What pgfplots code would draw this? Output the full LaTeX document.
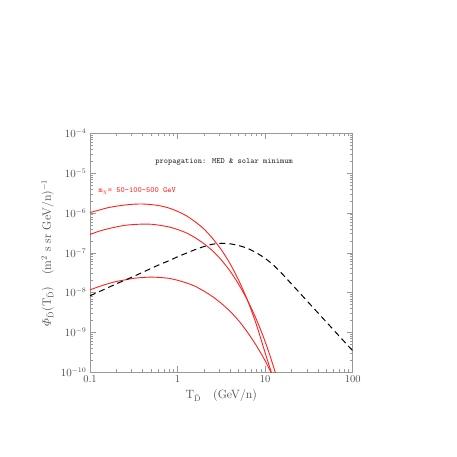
\documentclass[border=0pt]{standalone}
\usepackage{amsmath}
\usepackage{pgfplots}
\pgfplotsset{compat=1.18}
\definecolor{framegray}{gray}{0.6}
\definecolor{labgray}{gray}{0.3}
\definecolor{curvered}{HTML}{FF2020}

\begin{document}
\begin{tikzpicture}
  \useasboundingbox (-90pt,-84.7pt) rectangle (367pt,372.3pt);
  \begin{axis}[
    scale only axis,
    width=262.7pt,
    height=239pt,
    xmode=log, ymode=log,
    xmin=0.1, xmax=100,
    ymin=1e-10, ymax=1e-4,
    xtick={0.1,1,10,100},
    xticklabels={0.1,1,10,100},
    ytick={1e-10,1e-9,1e-8,1e-7,1e-6,1e-5,1e-4},
    axis line style={framegray, line width=0.8pt},
    every tick/.style={framegray, line width=0.6pt},
    major tick length=6pt,
    minor tick length=3pt,
    tick align=inside,
    ticklabel style={labgray, font=\fontsize{10.5}{12}\selectfont},
    xlabel={$\mathrm{T}_{\bar{\mathrm{D}}}$\quad(GeV/n)},
    ylabel={$\varPhi_{\bar{\mathrm{D}}}(\mathrm{T}_{\bar{\mathrm{D}}})$\quad(m$^2$ s sr GeV/n)$^{-1}$},
    label style={labgray, font=\fontsize{12}{14}\selectfont},
    clip=true,
  ]
    % red curves, m = 50, 100, 500 GeV
    \addplot[curvered, line width=0.9pt, smooth] coordinates {
      (0.1,1.023e-6) (0.1259,1.175e-6) (0.1585,1.349e-6) (0.1995,1.479e-6)
      (0.2512,1.585e-6) (0.3162,1.660e-6) (0.3981,1.679e-6) (0.5012,1.622e-6)
      (0.6310,1.514e-6) (0.7943,1.334e-6) (1,1.097e-6) (1.259,8.511e-7)
      (1.585,6.026e-7) (1.995,3.981e-7) (2.512,2.291e-7) (3.162,1.189e-7)
      (3.981,5.31e-8) (5.012,1.995e-8) (6.310,6.310e-9) (7.943,1.585e-9)
      (10,3.090e-10) (12.59,6.310e-11)
    };
    \addplot[curvered, line width=0.9pt, smooth] coordinates {
      (0.1,2.884e-7) (0.1259,3.467e-7) (0.1585,3.981e-7) (0.1995,4.467e-7)
      (0.2512,4.898e-7) (0.3162,5.129e-7) (0.3981,5.248e-7) (0.5012,5.21e-7)
      (0.6310,4.898e-7) (0.7943,4.467e-7) (1,3.846e-7) (1.259,3.162e-7)
      (1.585,2.399e-7) (1.995,1.698e-7) (2.512,1.122e-7) (3.162,6.607e-8)
      (3.981,3.467e-8) (5.012,1.585e-8) (6.310,6.310e-9) (7.943,2.138e-9)
      (10,5.888e-10) (12.59,1.288e-10) (15.85,2.188e-11)
    };
    \addplot[curvered, line width=0.9pt, smooth] coordinates {
      (0.1,1.175e-8) (0.1259,1.413e-8) (0.1585,1.660e-8) (0.1995,1.905e-8)
      (0.2512,2.089e-8) (0.3162,2.291e-8) (0.3981,2.399e-8) (0.5012,2.455e-8)
      (0.6310,2.399e-8) (0.7943,2.291e-8) (1,2.042e-8) (1.259,1.758e-8)
      (1.585,1.445e-8) (1.995,1.096e-8) (2.512,7.943e-9) (3.162,5.370e-9)
      (3.981,3.388e-9) (5.012,1.950e-9) (6.310,1.0e-9) (7.943,4.677e-10)
      (10,1.950e-10) (12.59,7.079e-11)
    };
    % dashed curve
    \addplot[black, line width=1pt, dash pattern=on 6pt off 4pt, smooth] coordinates {
      (0.1,8.318e-9) (0.1259,1.047e-8) (0.1585,1.318e-8) (0.1995,1.660e-8)
      (0.2512,2.065e-8) (0.3162,2.570e-8) (0.3981,3.236e-8) (0.5012,4.074e-8)
      (0.6310,5.129e-8) (0.7943,6.310e-8) (1,7.943e-8) (1.259,9.772e-8)
      (1.585,1.202e-7) (1.995,1.429e-7) (2.512,1.641e-7) (3.162,1.738e-7)
      (3.981,1.679e-7) (5.012,1.514e-7) (6.310,1.288e-7) (7.943,1.0e-7)
      (10,7.244e-8) (12.59,4.786e-8) (15.85,2.884e-8) (19.95,1.660e-8)
      (25.12,9.550e-9) (31.62,5.495e-9) (39.81,3.162e-9) (50.12,1.820e-9)
      (63.10,1.047e-9) (79.43,6.026e-10) (100,3.467e-10)
    };
    \node[black!85, font=\ttfamily\fontsize{8}{9}\selectfont, anchor=center]
      at (axis cs:3.4,1.9e-5) {propagation: MED \& solar minimum};
    \node[curvered, font=\ttfamily\fontsize{8}{9}\selectfont, anchor=west]
      at (axis cs:0.114,3.5e-6) {m$_\chi$= 50\textendash100\textendash500 GeV};
  \end{axis}
\end{tikzpicture}
\end{document}
